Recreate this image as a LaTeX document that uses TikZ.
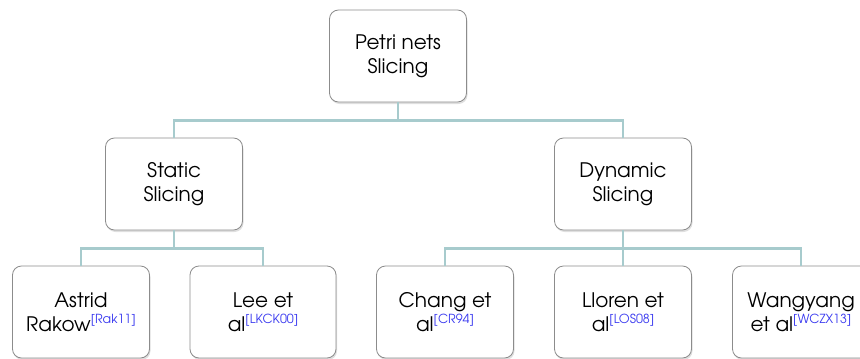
\documentclass[tikz,border=0pt]{standalone}
\usepackage{fontspec}
\setmainfont{texgyreadventor-regular.otf}
\usetikzlibrary{positioning,shadows}
\definecolor{psLine}{HTML}{A7CBCD}
\definecolor{psEdge}{HTML}{8C8C8C}
\definecolor{psCite}{HTML}{3A3AF0}
\newcommand{\refmark}[1]{\raisebox{7.5pt}{\fontsize{12.5}{12.5}\selectfont\color{psCite}[#1]}}

\begin{document}
\begin{tikzpicture}[x=1pt,y=1pt,
    box/.style={draw=psEdge,fill=white,rounded corners=9pt,line width=0.8pt,
                minimum width=137pt,minimum height=92pt,align=center,
                font=\fontsize{20}{24}\selectfont,
                drop shadow={shadow xshift=1pt,shadow yshift=-2pt,opacity=0.25}},
    link/.style={draw=psLine,line width=2.2pt}]
  \useasboundingbox (0,0) rectangle (860,-359);
  \clip (0,0) rectangle (860,-359);

  \node[box] (root)    at (398,-56)  {Petri nets\\Slicing};
  \node[box] (static)  at (174,-184) {Static\\Slicing};
  \node[box] (dynamic) at (623,-184) {Dynamic\\Slicing};

  \node[box] (rakow)  at (81,-312)  {Astrid\\Rakow\refmark{Rak11}};
  \node[box,minimum width=146pt] (lee) at (263,-312) {Lee et\\al\refmark{LKCK00}};
  \node[box] (chang)  at (445,-312) {Chang et\\al\refmark{CR94}};
  \node[box] (lloren) at (623,-312) {Lloren et\\al\refmark{LOS08}};
  \node[box] (wang)   at (801,-312) {Wangyang\\et al\refmark{WCZX13}};

  \draw[link] (root.south) -- ++(0,-18) -| (static.north);
  \draw[link] (root.south) -- ++(0,-18) -| (dynamic.north);

  \draw[link] (static.south) -- ++(0,-18) -| (rakow.north);
  \draw[link] (static.south) -- ++(0,-18) -| (lee.north);

  \draw[link] (dynamic.south) -- ++(0,-18) -| (chang.north);
  \draw[link] (dynamic.south) -- ++(0,-18) -| (lloren.north);
  \draw[link] (dynamic.south) -- ++(0,-18) -| (wang.north);
\end{tikzpicture}
\end{document}
